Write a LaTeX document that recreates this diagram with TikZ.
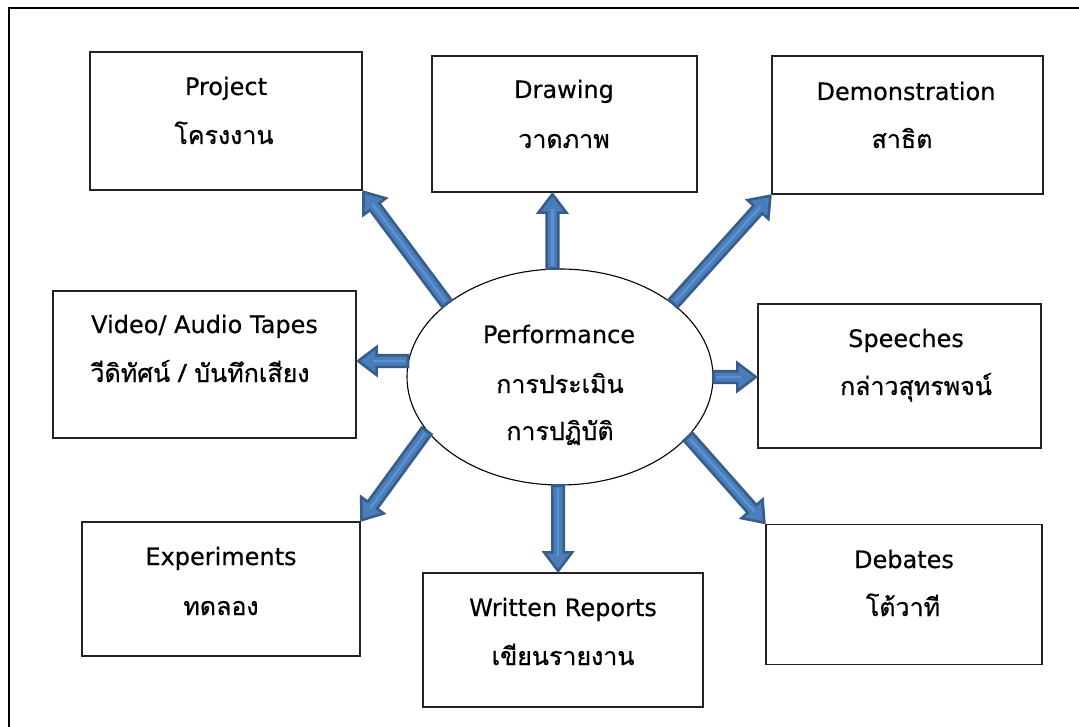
\documentclass[tikz,border=0pt]{standalone}
\usepackage{fontspec}
\setmainfont{DejaVu Sans}
\newfontfamily\latin[FakeBold=0.45]{DejaVu Sans}
\newfontfamily\thai[Script=Thai,FakeBold=0.7]{Loma}
\usetikzlibrary{calc,shapes.geometric}
\definecolor{arrowdark}{HTML}{385D8A}
\definecolor{arrowfill}{HTML}{4A7EBB}
\definecolor{arrowlight}{HTML}{5E93D3}
\definecolor{boxline}{HTML}{222222}
\tikzset{
  box/.style={draw=boxline, line width=1.3pt, minimum width=#1, inner sep=0pt},
  lat/.style={anchor=base, font=\latin\fontsize{24}{28}\selectfont, inner sep=0pt},
  th/.style={anchor=base, font=\thai\fontsize{25}{29}\selectfont, inner sep=0pt},
}
\newcommand\blockarr[2]{%
  \coordinate (ba-hb) at ($(#2)!20pt!(#1)$);
  \filldraw[draw=arrowdark, fill=arrowfill, line width=2.6pt, line join=miter]
    ($(#1)!5.8pt!90:(#2)$) -- ($(ba-hb)!5.8pt!-90:(#1)$) -- ($(ba-hb)!14pt!-90:(#1)$)
    -- ($(#2)!1.5pt!(#1)$) -- ($(ba-hb)!14pt!90:(#1)$) -- ($(ba-hb)!5.8pt!90:(#1)$)
    -- ($(#1)!5.8pt!-90:(#2)$) -- cycle;
  \draw[arrowlight, line width=2.2pt] ($(#1)!3pt!(#2)$) -- ($(ba-hb)!-4pt!(#1)$);
}
\begin{document}
\begin{tikzpicture}[x=1pt,y=-1pt]
\useasboundingbox (0,0) rectangle (1079,727);
\clip (0,0) rectangle (1079,727);
\fill[white] (0,0) rectangle (1079,727);
\draw[black, line width=1.8pt] (9,8) rectangle (1095,745);

% boxes
\node[box=272pt, minimum height=138pt] (prj) at (226,121) {};
\node[box=265pt, minimum height=136pt] (drw) at (564.5,124) {};
\node[box=271pt, minimum height=138pt] (dem) at (907.5,125) {};
\node[box=303pt, minimum height=147pt] (vid) at (204.5,364.5) {};
\node[box=283pt, minimum height=144pt] (spc) at (899.5,376) {};
\node[box=278pt, minimum height=134pt] (exp) at (221,589) {};
\node[box=280pt, minimum height=134pt] (wrt) at (563,640) {};
\node[box=276pt, minimum height=140pt] (deb) at (904,594.5) {};

% centre
\node[ellipse, draw=black, line width=1.1pt, minimum width=306pt, minimum height=216pt, inner sep=0pt] (c) at (560,377) {};

% texts
\node[lat] (prjA) at (226,95) {Project};
\node[th]  (prjB) at (224,144) {โครงงาน};
\node[lat] (drwA) at (564,98) {Drawing};
\node[th]  (drwB) at (564,148) {วาดภาพ};
\node[lat] (demA) at (906,100) {Demonstration};
\node[th]  (demB) at (902,148) {สาธิต};
\node[lat] (vidA) at (204.5,333) {Video/ Audio Tapes};
\node[th]  (vidB) at (200,382) {วีดิทัศน์ / บันทึกเสียง};
\node[lat] (perA) at (559,343) {Performance};
\node[th]  (perB) at (560,393) {การประเมิน};
\node[th]  (perC) at (560,440) {การปฏิบัติ};
\node[lat] (spcA) at (906,347) {Speeches};
\node[th]  (spcB) at (916,395) {กล่าวสุทรพจน์};
\node[lat] (expA) at (221,565) {Experiments};
\node[th]  (expB) at (221,615) {ทดลอง};
\node[lat] (wrtA) at (563,616) {Written Reports};
\node[th]  (wrtB) at (563,665) {เขียนรายงาน};
\node[lat] (debA) at (904,568) {Debates};
\node[th]  (debB) at (903,616) {โต้วาที};

% arrow end points
\coordinate (tdrw) at (c.94 |- drw.south);
\coordinate (tvid) at (c.174 -| vid.east);
\coordinate (tspc) at (c.0 -| spc.west);
\coordinate (twrt) at (c.-91 |- wrt.north);

\blockarr{c.147.5}{prj.south east}
\blockarr{c.94}{tdrw}
\blockarr{c.33}{dem.south west}
\blockarr{c.174}{tvid}
\blockarr{c.0}{tspc}
\blockarr{c.-25}{deb.north west}
\blockarr{c.-91}{twrt}
\blockarr{c.202.5}{exp.north east}
\end{tikzpicture}
\end{document}
